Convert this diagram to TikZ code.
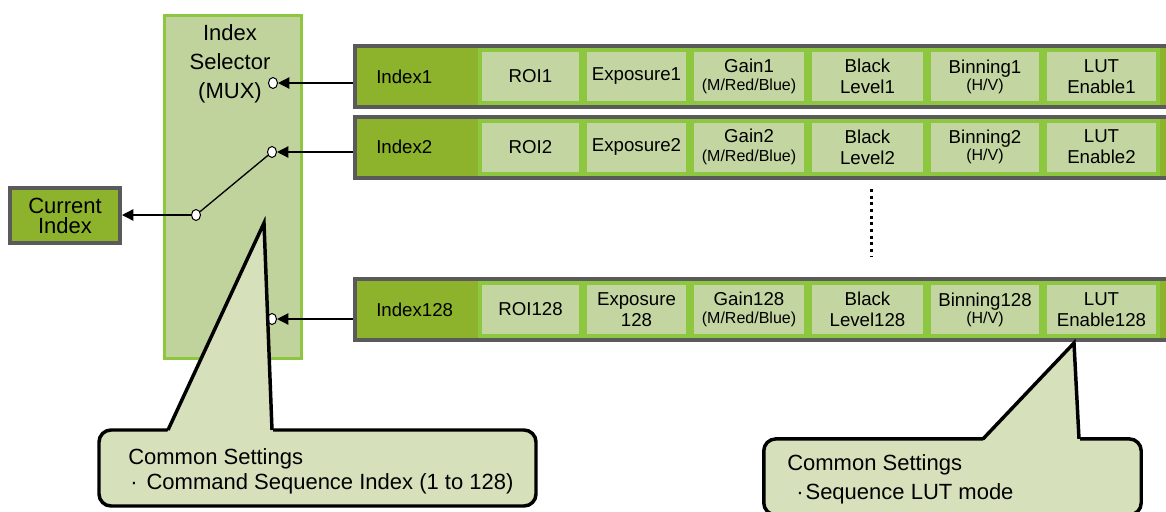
\documentclass[tikz,border=0pt]{standalone}
\usepackage{fontspec}
\setmainfont{Liberation Sans}
\usetikzlibrary{arrows.meta,positioning,shapes.geometric}

\definecolor{oliveG}{HTML}{8DB22B}
\definecolor{leafG}{HTML}{8DC63F}
\definecolor{paleG}{HTML}{C3D5A0}
\definecolor{muxG}{HTML}{C1D39C}
\definecolor{noteG}{HTML}{D6E1BC}
\definecolor{rowgray}{HTML}{5A5A5A}

\begin{document}
\begin{tikzpicture}[
  x=0.75pt, y=-0.75pt,
  seqrow/.style={draw=rowgray, line width=3pt, fill=oliveG, minimum width=615pt, minimum height=45.75pt, inner sep=0pt},
  cell/.style={draw=leafG, line width=3pt, fill=paleG, minimum height=39.75pt, inner sep=0pt, outer sep=0pt, align=center, font=\fontsize{14}{15.75}\selectfont},
  twoline/.style={execute at begin node={\rule{0pt}{13pt}}},
  port/.style={ellipse, draw, fill=white, line width=0.8pt, minimum width=6.75pt, minimum height=8.25pt, inner sep=0pt},
  arrow/.style={-{Triangle[length=8.5pt,width=8.5pt]}, line width=1pt},
  note/.style={draw, line width=2.6pt, fill=noteG, rounded corners=9pt, minimum height=57pt},
  notetext/.style={anchor=west, inner sep=0pt, align=left}
]
\clip (0,0) rectangle (1166,511);

% sequence rows
\foreach \r/\y/\n/\e in {1/76.5/1/Exposure1, 2/147/2/Exposure2, 3/309.5/128/{Exposure\\128}} {
  \node[seqrow] (row\r) at (765,\y) {};
  \node[anchor=west, inner sep=0pt, font=\fontsize{14}{16}\selectfont] (idx\r) at (376,\y) {Index\n};
  \node[cell, minimum width=75.75pt, anchor=west] (roi\r) at (480,\y) {ROI\n};
  \node[cell, minimum width=77.25pt, right=3pt of roi\r] (exp\r) {\e};
  \node[cell, twoline, minimum width=85.5pt, right=3pt of exp\r] (gain\r) {Gain\n\\[-2pt]{\fontsize{12}{13}\selectfont (M/Red/Blue)}};
  \node[cell, twoline, minimum width=86.25pt, right=3pt of gain\r] (black\r) {Black\\Level\n};
  \node[cell, twoline, minimum width=84pt, right=3pt of black\r] (bin\r) {Binning\n\\[-3pt]{\fontsize{12}{13}\selectfont (H/V)}};
  \node[cell, twoline, minimum width=84.75pt, right=3pt of bin\r] (lut\r) {LUT\\Enable\n};
}

% selector
\node[draw=leafG, line width=2.25pt, fill=muxG, minimum width=102.75pt, minimum height=257.25pt] (mux) at (233,187) {};
\node[align=center, font=\fontsize{16.5}{21.75}\selectfont] (muxlbl) at (230,64) {Index\\Selector\\(MUX)};

\node[port] (in1) at (273,83) {};
\node[port] (in2) at (272,152) {};
\node[port] (in3) at (272,319) {};
\node[port] (sw) at (196,215) {};

\node[draw=rowgray, line width=3pt, fill=oliveG, minimum width=82.5pt, minimum height=41.25pt, align=center, font=\fontsize{16.5}{15}\selectfont] (cur) at (65,215.5) {Current\\Index};

\draw[arrow] (row1.west |- in1) -- (in1);
\draw[arrow] (row2.west |- in2) -- (in2);
\draw[arrow] (row3.west |- in3) -- (in3);
\draw[line width=1pt] (sw) -- (in2);
\draw[arrow] (sw) -- (sw -| cur.east);

% omitted rows
\coordinate (dottop) at (871,189);
\coordinate (dotbot) at (871,257);
\draw[line width=2.25pt, dash pattern=on 2.25pt off 2.75pt] (dottop) -- (dotbot);

% callouts
\node[note, minimum width=327.75pt] (note1) at (317.5,468) {};
\coordinate (tip1) at (264,223);
\fill[noteG] (167,433) -- (tip1) -- (273,433) -- cycle;
\draw[line width=2.6pt] (168,430) -- (tip1) -- (272,430);
\node[notetext, font=\fontsize{16.5}{18.75}\selectfont] (note1txt) at (128,471) {Common Settings\\\hspace{1.5pt}·\hspace{6.75pt}Command Sequence Index (1 to 128)};

\node[note, minimum width=283.1pt] (note2) at (952.5,476.9) {};
\coordinate (tip2) at (1074,343);
\fill[noteG] (982,442) -- (tip2) -- (1080,442) -- cycle;
\draw[line width=2.6pt] (983,438.9) -- (tip2) -- (1079,438.9);
\node[notetext, font=\fontsize{16.5}{21.75}\selectfont] (note2txt) at (787,479) {Common Settings\\\hspace{6.75pt}·\hspace{1.5pt}Sequence LUT mode};
\end{tikzpicture}
\end{document}
